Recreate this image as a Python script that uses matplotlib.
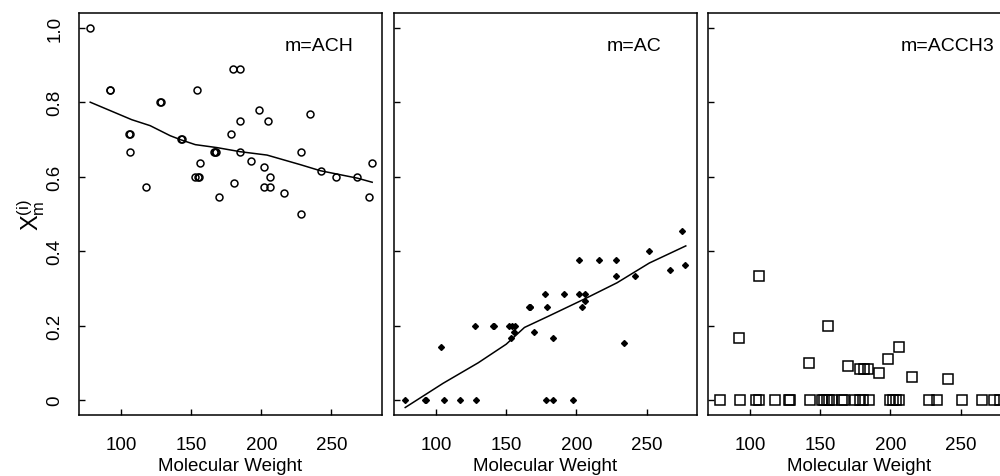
import matplotlib
matplotlib.use("Agg")
import matplotlib.pyplot as plt

plt.rcParams['font.family'] = ['Liberation Sans', 'DejaVu Sans']
plt.rcParams['mathtext.fontset'] = 'custom'
plt.rcParams['mathtext.rm'] = 'Liberation Sans'
plt.rcParams['mathtext.it'] = 'Liberation Sans'

# Data ------------------------------------------------------------------------

# m = ACH (open circles)
ach_mw = [78, 92, 92.4, 128, 128.6, 105.5, 106.5, 106.6, 118, 142.5, 143.2,
          154, 153, 154.5, 155.6, 156.4, 166, 167, 168, 170, 178, 179.5,
          184.5, 180.5, 184.5, 185, 192.6, 198.6, 202, 204.5, 202, 206.4,
          206.4, 216.4, 228.6, 228.6, 234.5, 242.6, 252.9, 268, 279, 276.7]
ach_val = [1.0, 0.833, 0.833, 0.8, 0.8, 0.714, 0.714, 0.667, 0.571, 0.7, 0.7,
           0.833, 0.6, 0.6, 0.6, 0.636, 0.667, 0.667, 0.667, 0.545, 0.714,
           0.889, 0.889, 0.583, 0.75, 0.667, 0.643, 0.778, 0.625, 0.75, 0.571,
           0.571, 0.6, 0.556, 0.667, 0.5, 0.769, 0.615, 0.6, 0.6, 0.636, 0.545]

ach_fit_mw = [78, 107.6, 120.7, 135, 142.6, 152.9, 168.4, 185, 204, 228, 242,
              268.4, 279]
ach_fit_val = [0.8, 0.753, 0.737, 0.71, 0.699, 0.686, 0.678, 0.667, 0.658,
               0.632, 0.616, 0.596, 0.585]

# m = AC (small filled diamonds)
ac_mw = [78, 92, 92.6, 103.6, 105.6, 117.4, 127.4, 128.3, 140.6, 141.4, 152,
         154, 156, 153.6, 155.7, 166, 166.6, 167.2, 170, 177.6, 178, 179, 183,
         183, 191, 197.6, 201.6, 201.6, 203.7, 205.9, 205.9, 216, 228, 228,
         233.8, 241.7, 251.9, 266.7, 275.5, 277.4]
ac_val = [0, 0, 0, 0.143, 0, 0, 0.2, 0, 0.2, 0.2, 0.2, 0.2, 0.2, 0.167, 0.182,
          0.25, 0.25, 0.25, 0.182, 0.286, 0, 0.25, 0.167, 0, 0.286, 0, 0.375,
          0.286, 0.25, 0.286, 0.267, 0.375, 0.375, 0.333, 0.154, 0.333, 0.4,
          0.348, 0.455, 0.364]

ac_fit_mw = [78, 105, 130, 150, 163, 180, 205, 229, 252, 278]
ac_fit_val = [-0.02, 0.045, 0.1, 0.15, 0.195, 0.225, 0.27, 0.315, 0.368, 0.414]

# m = ACCH3 (open squares)
acch3_mw = [78.3, 93, 104, 106.5, 117.6, 127.8, 128.6, 142.6, 151, 153, 154.8,
            156.6, 158.5, 165.8, 167, 174.8, 178.6, 180.5, 184.5, 200, 202,
            204, 206.5, 227.4, 233.3, 251.2, 265.5, 273.8, 278.5,
            92, 106, 141.9, 155.7, 170, 178.3, 181, 183.8, 191.7, 198,
            205.9, 215.5, 240.9]
acch3_val = [0, 0, 0, 0, 0, 0, 0, 0, 0, 0, 0, 0, 0, 0, 0, 0, 0, 0, 0, 0, 0,
             0, 0, 0, 0, 0, 0, 0, 0,
             0.167, 0.333, 0.1, 0.2, 0.0909, 0.0833, 0.0833, 0.0833, 0.0714,
             0.111, 0.143, 0.0625, 0.0556]

panel_labels = ["m=ACH", "m=AC", "m=ACCH3"]
x_ticks = [100, 150, 200, 250]
y_ticks = [0, 0.2, 0.4, 0.6, 0.8, 1.0]
y_tick_labels = ["0", "0.2", "0.4", "0.6", "0.8", "1.0"]

# Figure ----------------------------------------------------------------------

fig = plt.figure(figsize=(10, 4.77), dpi=100)

lefts = [0.079, 0.394, 0.708]
axes = []
for left in lefts:
    ax = fig.add_axes([left, 0.128, 0.303, 0.843])
    axes.append(ax)

axes[0].plot(ach_mw, ach_val, linestyle="none", marker="o", markersize=5,
             markerfacecolor="none", markeredgecolor="black",
             markeredgewidth=1.1)
axes[0].plot(ach_fit_mw, ach_fit_val, color="black", linewidth=1.1)

axes[1].plot(ac_mw, ac_val, linestyle="none", marker="D", markersize=3,
             color="black")
axes[1].plot(ac_fit_mw, ac_fit_val, color="black", linewidth=1.1)

axes[2].plot(acch3_mw, acch3_val, linestyle="none", marker="s", markersize=7.5,
             markerfacecolor="none", markeredgecolor="black",
             markeredgewidth=1.1)

for i, ax in enumerate(axes):
    ax.set_xlim(70, 286)
    ax.set_ylim(-0.04, 1.04)
    ax.set_xticks(x_ticks)
    ax.set_yticks(y_ticks)
    ax.tick_params(direction="in", length=4, width=1, labelsize=13.5)
    ax.tick_params(axis="x", pad=15)
    ax.tick_params(axis="y", pad=11)
    ax.set_xlabel("Molecular Weight", fontsize=13.5, labelpad=3)
    for s in ax.spines.values():
        s.set_linewidth(1.1)
    ax.text(241, 0.953, panel_labels[i], ha="center", va="center",
            fontsize=14)
    if i == 0:
        ax.set_yticklabels(y_tick_labels, rotation=90, va="center")
        ax.set_ylabel(r"$\mathrm{X}_\mathrm{m}^{(i)}$", fontsize=17,
                      labelpad=0)
    else:
        ax.set_yticklabels([])

fig.savefig("out.png", dpi=100)
